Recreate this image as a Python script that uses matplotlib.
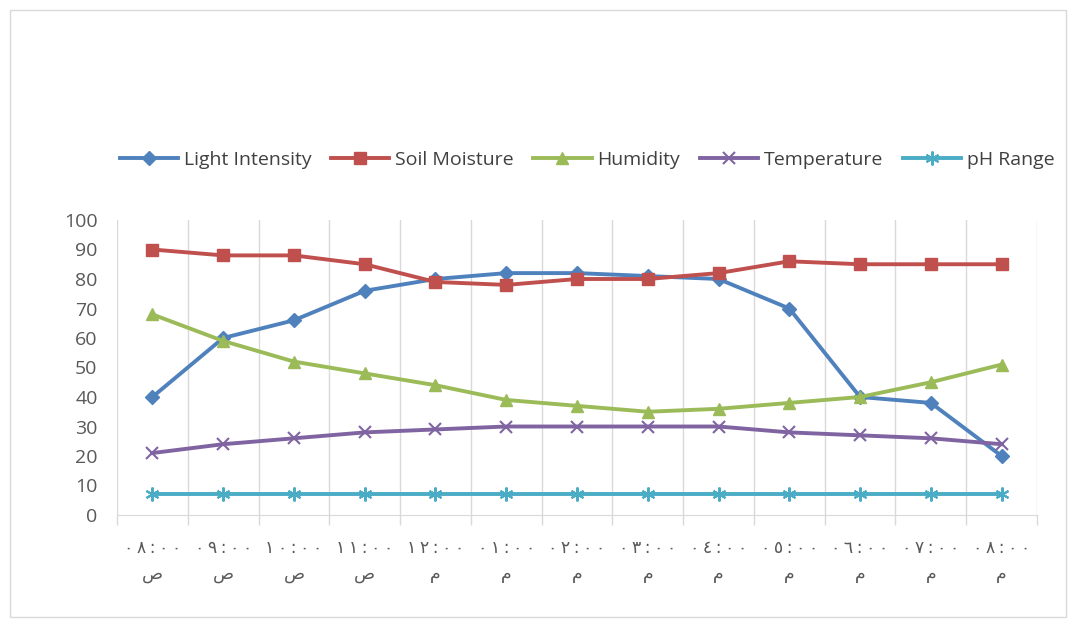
import matplotlib
matplotlib.use("Agg")
import matplotlib.pyplot as plt
from matplotlib.patches import Rectangle
import numpy as np

plt.rcParams['font.family'] = ['Open Sans', 'DejaVu Sans']

categories = ["٠٨:٠٠\nص", "٠٩:٠٠\nص", "١٠:٠٠\nص", "١١:٠٠\nص", "١٢:٠٠\nم",
              "٠١:٠٠\nم", "٠٢:٠٠\nم", "٠٣:٠٠\nم", "٠٤:٠٠\nم", "٠٥:٠٠\nم",
              "٠٦:٠٠\nم", "٠٧:٠٠\nم", "٠٨:٠٠\nم"]
light_intensity = [40, 60, 66, 76, 80, 82, 82, 81, 80, 70, 40, 38, 20]
soil_moisture = [90, 88, 88, 85, 79, 78, 80, 80, 82, 86, 85, 85, 85]
humidity = [68, 59, 52, 48, 44, 39, 37, 35, 36, 38, 40, 45, 51]
temperature = [21, 24, 26, 28, 29, 30, 30, 30, 30, 28, 27, 26, 24]
ph_range = [7, 7, 7, 7, 7, 7, 7, 7, 7, 7, 7, 7, 7]
y_ticks = [0, 10, 20, 30, 40, 50, 60, 70, 80, 90, 100]

series = [
    ("Light Intensity", light_intensity, "#4F81BD", "D", 7),
    ("Soil Moisture", soil_moisture, "#C0504D", "s", 8),
    ("Humidity", humidity, "#9BBB59", "^", 9),
    ("Temperature", temperature, "#8064A2", "x", 9),
    ("pH Range", ph_range, "#4BACC6", (6, 2, 0), 10),
]


def spaced(label):
    top, bottom = label.split("\n")
    return "\u2009".join(top) + "\n" + bottom


fig = plt.figure(figsize=(10.71, 6.20), dpi=100)
fig.patches.append(Rectangle((10/1071, 3/620), 1056/1071, 607/620, transform=fig.transFigure,
                             fill=False, edgecolor="#D9D9D9", linewidth=1))
ax = fig.add_axes([117/1071, 105/620, 920/1071, 295/620])

x = np.arange(len(categories))
handles = []
for name, vals, color, marker, ms in series:
    if marker in ("x",) or isinstance(marker, tuple):
        h, = ax.plot(x, vals, color=color, linewidth=2.8, marker=marker, markersize=ms,
                     markeredgewidth=1.5, markeredgecolor=color, label=name)
    else:
        h, = ax.plot(x, vals, color=color, linewidth=2.8, marker=marker, markersize=ms,
                     markeredgecolor=color, markerfacecolor=color, label=name)
    handles.append(h)

ax.set_xlim(-0.5, len(categories) - 0.5)
ax.set_ylim(0, 100)
ax.set_yticks(y_ticks)
ax.tick_params(axis='y', length=0, labelsize=14, colors="#595959", pad=14)
ax.set_xticks(x)
ax.set_xticklabels([spaced(c) for c in categories], fontsize=12.5, color="#595959",
                   linespacing=1.6, family=['DejaVu Sans'])
ax.tick_params(axis='x', length=0, pad=17)

bounds = np.arange(len(categories) + 1) - 0.5
ax.set_xticks(bounds, minor=True)
ax.tick_params(axis='x', which='minor', length=7, color="#D9D9D9", width=1)
for b in bounds:
    ax.axvline(b, color="#D9D9D9", linewidth=1, zorder=0)

for s in ['top', 'right', 'left']:
    ax.spines[s].set_visible(False)
ax.spines['bottom'].set_color("#D9D9D9")

fig.legend(handles=handles, loc='center', bbox_to_anchor=(587/1071, 1 - 160/620), ncol=5,
           frameon=False, fontsize=14, handlelength=3, columnspacing=1.0, handletextpad=0.3,
           labelcolor="#404040")

fig.savefig("out.png", dpi=100)
